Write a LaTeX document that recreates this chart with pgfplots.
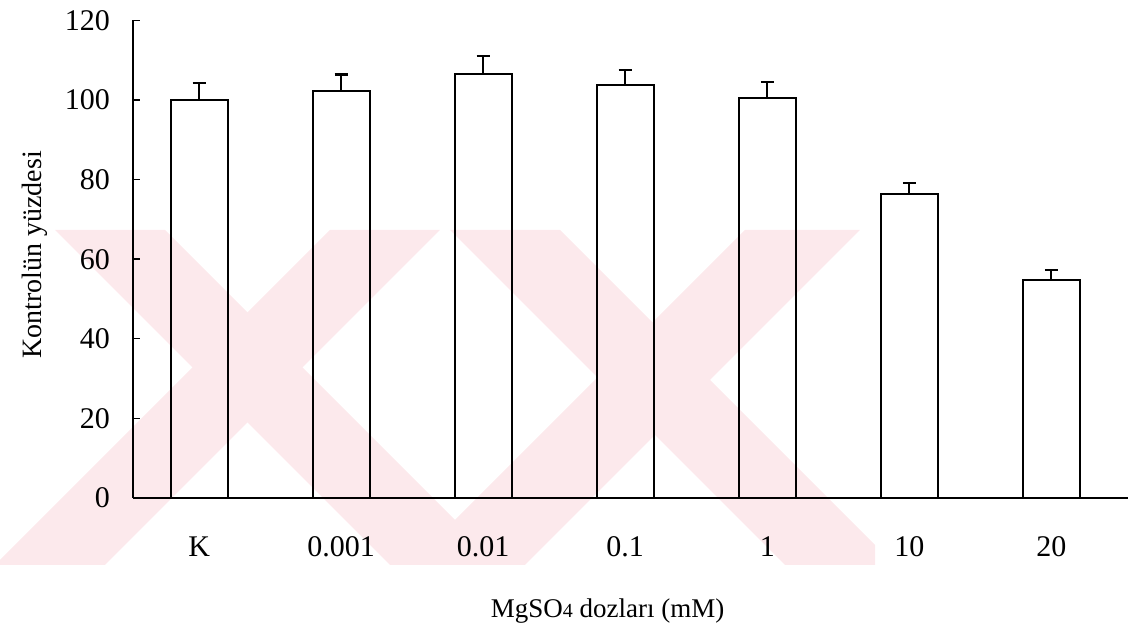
\documentclass[border=0pt]{standalone}
\usepackage{fontspec}
\setmainfont{Liberation Serif}
\usepackage{pgfplots}
\pgfplotsset{compat=1.18}
\definecolor{wm}{RGB}{252,233,236}
\pgfplotstableread{
x y e
0 100.0 4.3
1 102.3 4.1
2 106.6 4.4
3 103.8 3.7
4 100.6 3.9
5 76.3 2.9
6 54.8 2.5
}\datatable
\begin{document}
\begin{tikzpicture}
\path[use as bounding box] (0,0) rectangle (572.5pt,312pt);
% faint background watermark (pixel coordinates)
\begin{scope}[yshift=312pt, x=0.5pt, y=-0.5pt]
\clip (0,230) rectangle (875,565);
\fill[wm] (55,230) -- (165,230) -- (500,565) -- (390,565) -- cycle;
\fill[wm] (330,230) -- (440,230) -- (105,565) -- (-5,565) -- cycle;
\fill[wm] (450,230) -- (560,230) -- (895,565) -- (785,565) -- cycle;
\fill[wm] (745,230) -- (860,230) -- (525,565) -- (410,565) -- cycle;
\end{scope}
\begin{axis}[
  at={(66.5pt,63pt)}, anchor=south west,
  scale only axis, width=497.5pt, height=238.8pt,
  xmin=-0.466, xmax=6.54, ymin=0, ymax=120,
  axis x line=bottom, axis y line=left,
  axis line style={-, line width=0.7pt, black},
  ytick={0,20,...,120},
  tick align=inside,
  major tick length=3.5pt,
  y tick style={line width=0.7pt, black},
  xtick={0,1,2,3,4,5,6},
  xticklabels={K,0.001,0.01,0.1,1,10,20},
  x tick style={draw=none},
  /pgf/number format/assume math mode=true,
  tick label style={font=\fontsize{15}{18}\selectfont},
  yticklabel style={xshift=-8pt},
  xticklabel style={anchor=base, yshift=-29.5pt},
  xlabel={MgSO{\fontsize{10}{12}\selectfont 4} dozları (mM)},
  xlabel style={at={(axis description cs:0.477,-0.251)}, anchor=base, font=\fontsize{13.5}{16}\selectfont},
  ylabel={Kontrolün yüzdesi},
  ylabel style={at={(axis description cs:-0.0915,0.509)}, anchor=base, font=\fontsize{14}{16}\selectfont},
  clip=false,
]
\addplot[ybar, bar width=28.5pt, draw=black, fill=none, line width=1.1pt,
  error bars/.cd, y dir=plus, y explicit,
  error bar style={line width=1.1pt, black},
  error mark options={rotate=90, mark size=3.25pt, line width=1.2pt, black}]
  table[x=x, y=y, y error=e] {\datatable};
\end{axis}
\end{tikzpicture}
\end{document}
